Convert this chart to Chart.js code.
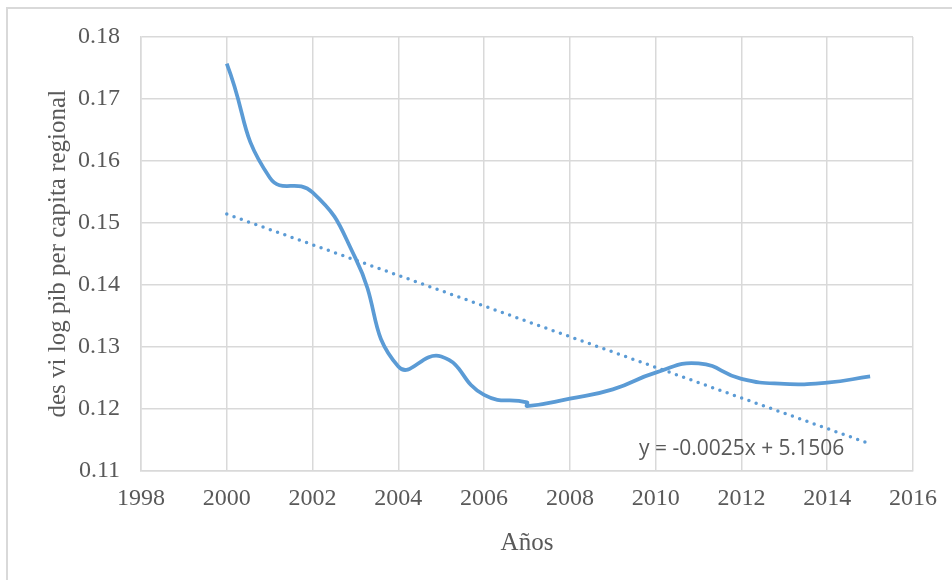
<!DOCTYPE html>
<html>
<head>
<meta charset="utf-8">
<script src="https://cdn.jsdelivr.net/npm/chart.js@4.4.1/dist/chart.umd.min.js"></script>
<style>
  html, body { margin: 0; padding: 0; background: #fff; }
  #wrap { position: relative; width: 952px; height: 580px; overflow: hidden; }
  #frame { position: absolute; left: 6px; top: 7px; width: 960px; height: 590px; border: 2px solid #d9d9d9; box-sizing: border-box; }
  canvas { position: absolute; left: 0; top: 0; }
</style>
</head>
<body>
<div id="wrap">
  <div id="frame"></div>
  <canvas id="chart" width="952" height="580"></canvas>
</div>
<script>
// Serie: desviacion del log pib per capita regional
const years = [2000, 2001, 2002, 2003, 2004, 2005, 2006, 2007, 2007, 2008, 2009, 2010, 2011, 2012, 2013, 2014, 2015];
const values = [0.1757, 0.1573, 0.1549, 0.1443, 0.1268, 0.1284, 0.1222, 0.1210, 0.1204, 0.1216, 0.1231, 0.1258, 0.1273, 0.1248, 0.1240, 0.1242, 0.1252];

// Linea de tendencia (extremos)
const trendYears = [2000, 2015];
const trendValues = [0.1514, 0.1143];
const trendLabel = 'y = -0.0025x + 5.1506';

const xTitle = 'Años';
const yTitle = 'des vi log pib per capita regional';

const serif = '"Liberation Serif", "Times New Roman", serif';
const textColor = '#595959';
const gridColor = '#d9d9d9';

// Etiqueta de la ecuacion de tendencia
const equationPlugin = {
    id: 'equation',
    afterDatasetsDraw(chart) {
        const { ctx, scales: { x, y } } = chart;
        ctx.save();
        ctx.font = '21px "Open Sans"';
        ctx.fillStyle = textColor;
        ctx.textAlign = 'left';
        ctx.textBaseline = 'alphabetic';
        ctx.fillText(trendLabel, x.getPixelForValue(2009.61), y.getPixelForValue(0.1125));
        ctx.restore();
    }
};

const ctx = document.getElementById('chart').getContext('2d');
new Chart(ctx, {
    type: 'line',
    data: {
        datasets: [
            {
                data: years.map((yr, i) => ({ x: yr, y: values[i] })),
                borderColor: '#5b9bd5',
                borderWidth: 3.75,
                pointRadius: 0,
                tension: 0.5,
                fill: false
            },
            {
                data: trendYears.map((yr, i) => ({ x: yr, y: trendValues[i] })),
                borderColor: '#5b9bd5',
                borderWidth: 3.5,
                borderDash: [0, 7.7],
                borderCapStyle: 'round',
                pointRadius: 0,
                tension: 0,
                fill: false
            }
        ]
    },
    options: {
        responsive: false,
        animation: false,
        layout: { padding: { left: 30, right: 39, top: 37, bottom: 0 } },
        plugins: {
            legend: { display: false },
            tooltip: { enabled: false }
        },
        scales: {
            x: {
                type: 'linear',
                min: 1998,
                max: 2016,
                ticks: {
                    stepSize: 2,
                    padding: 14,
                    color: textColor,
                    font: { family: serif, size: 24 },
                    maxRotation: 0,
                    autoSkip: false,
                    callback: v => String(v)
                },
                grid: { color: gridColor, lineWidth: 1.5, drawTicks: false },
                border: { color: gridColor, width: 1.5 },
                title: {
                    display: true,
                    text: xTitle,
                    color: textColor,
                    font: { family: serif, size: 25 },
                    padding: { top: 0, bottom: 22 }
                },
                afterFit(scale) { scale.height = 109.5; }
            },
            y: {
                min: 0.11,
                max: 0.18,
                ticks: {
                    stepSize: 0.01,
                    padding: 21,
                    color: textColor,
                    font: { family: serif, size: 24 },
                    callback: v => v.toFixed(2)
                },
                grid: { color: gridColor, lineWidth: 1.5, drawTicks: false },
                border: { color: gridColor, width: 1.5 },
                title: {
                    display: true,
                    text: yTitle,
                    color: textColor,
                    font: { family: serif, size: 25 },
                    padding: { top: 13, bottom: 0 }
                },
                afterFit(scale) { scale.width = 111; }
            }
        }
    },
    plugins: [equationPlugin]
});
</script>
</body>
</html>
